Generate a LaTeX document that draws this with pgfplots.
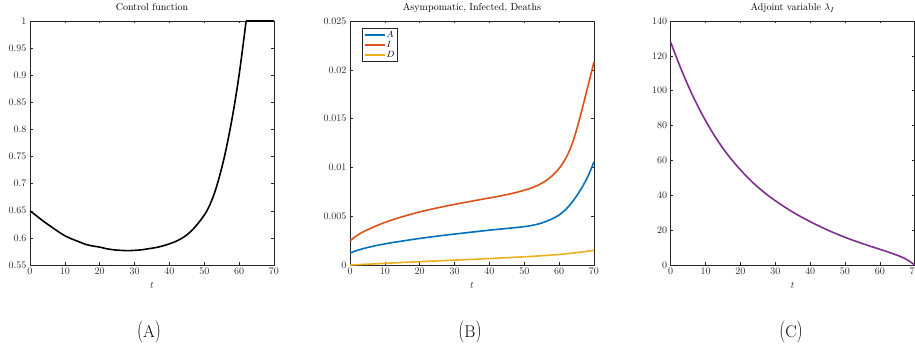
\documentclass[border=0pt]{standalone}
\usepackage{pgfplots}
\usepackage{graphicx}
\pgfplotsset{compat=1.18}
\definecolor{mblue}{rgb}{0,0.447,0.741}
\definecolor{morange}{rgb}{0.85,0.325,0.098}
\definecolor{myellow}{rgb}{0.929,0.694,0.125}
\definecolor{mpurple}{rgb}{0.494,0.184,0.556}
\definecolor{axcol}{rgb}{0.15,0.15,0.15}
\pgfplotsset{
 panel/.style={
  scale only axis, width=244pt, height=244pt, anchor=south west,
  xmin=0, xmax=70, xtick distance=10,
  axis line style={axcol, line width=0.5pt},
  tick style={axcol, line width=0.5pt},
  major tick length=2.5pt,
  tick align=inside,
  ticklabel style={text=axcol},
  xlabel={$t$},
  xlabel style={at={(axis description cs:0.5,0)}, anchor=base, yshift=-24pt, text=axcol},
  title style={at={(axis description cs:0.5,1)}, anchor=base, yshift=4pt},
  every axis plot/.append style={line width=1.6pt, line join=round},
  clip=false,
 }
}
\newcommand{\subcap}[1]{{\fontsize{17}{20}\selectfont\scalebox{1}[1.3]{(}#1\scalebox{1}[1.3]{)}}}
\begin{document}
\begin{tikzpicture}
% Panel A
\begin{axis}[panel, at={(30pt,80pt)},
  ymin=0.55, ymax=1, ytick={0.55,0.6,...,1.01},
  yticklabel style={/pgf/number format/fixed, /pgf/number format/precision=2},
  title={Control function}]
\addplot[black, smooth, tension=0.5] coordinates {
(0,0.650) (2,0.640) (4,0.630) (6,0.621) (8,0.612) (10,0.604) (12,0.598) (14,0.593)
(16,0.588) (18,0.585) (20,0.583) (22,0.580) (24,0.578) (26,0.577) (28,0.5765) (30,0.577)
(32,0.578) (34,0.580) (36,0.582) (38,0.585) (40,0.589) (42,0.594) (44,0.601) (46,0.611)
(48,0.625) (50,0.642) (51,0.653) (52,0.667) (53,0.684) (54,0.705) (55,0.729) (56,0.756)
(57,0.787) (58,0.821) (59,0.859) (60,0.901) (61,0.949) (62,1.000)
};
\addplot[black] coordinates {(62,1.000) (70,1.000)};
\end{axis}
% Panel B
\begin{axis}[panel, at={(350pt,80pt)},
  ymin=0, ymax=0.025, ytick={0,0.005,0.01,0.015,0.02,0.025},
  scaled y ticks=false,
  yticklabel style={/pgf/number format/fixed, /pgf/number format/precision=3},
  title={Asympomatic, Infected, Deaths},
  legend style={at={(0.049,0.971)}, anchor=north west, font=\small, draw=axcol,
    line width=0.5pt, inner sep=1.5pt, row sep=0pt, nodes={inner sep=1.2pt}},
  legend cell align=left,
  legend image code/.code={\draw[#1, sharp plot, line width=1.6pt] (0pt,0pt) -- (20pt,0pt);}]
\addplot[mblue, smooth, tension=0.5] coordinates {
(0,0.00120) (1,0.00136) (2,0.00149) (3,0.00160) (4,0.00170) (5,0.00179) (6,0.00187)
(8,0.00203) (10,0.00216) (12,0.00229) (14,0.00240) (16,0.00251) (18,0.00262) (20,0.00272)
(22,0.00282) (24,0.00291) (26,0.00300) (28,0.00309) (30,0.00317) (32,0.00325) (34,0.00333)
(36,0.00341) (38,0.00349) (40,0.00357) (42,0.00364) (44,0.00371) (46,0.00378) (48,0.00385)
(50,0.00393) (52,0.00404) (54,0.00420) (56,0.00443) (58,0.00473) (60,0.00512) (61,0.00540)
(62,0.00573) (63,0.00612) (64,0.00657) (65,0.00707) (66,0.00762) (67,0.00822) (68,0.00889)
(69,0.00968) (70,0.01058)
};
\addlegendentry{$A$}
\addplot[morange, smooth, tension=0.5] coordinates {
(0,0.00247) (1,0.00277) (2,0.00302) (3,0.00324) (4,0.00344) (5,0.00361) (6,0.00377)
(8,0.00408) (10,0.00436) (12,0.00461) (14,0.00484) (16,0.00505) (18,0.00525) (20,0.00544)
(22,0.00561) (24,0.00577) (26,0.00592) (28,0.00607) (30,0.00621) (32,0.00635) (34,0.00648)
(36,0.00661) (38,0.00674) (40,0.00687) (42,0.00700) (44,0.00714) (46,0.00729) (48,0.00746)
(50,0.00766) (52,0.00789) (54,0.00818) (56,0.00858) (58,0.00914) (60,0.00990) (61,0.01040)
(62,0.01100) (63,0.01175) (64,0.01270) (65,0.01385) (66,0.01515) (67,0.01655) (68,0.01795)
(69,0.01937) (70,0.02080)
};
\addlegendentry{$I$}
\addplot[myellow, smooth, tension=0.5] coordinates {
(0,0.00000) (5,0.00008) (10,0.00017) (15,0.00026) (20,0.00034) (25,0.00042) (30,0.00050)
(35,0.00058) (40,0.00066) (45,0.00075) (50,0.00084) (55,0.00095) (60,0.00108) (65,0.00127)
(70,0.00150)
};
\addlegendentry{$D$}
\end{axis}
% Panel C
\begin{axis}[panel, at={(670.7pt,80pt)},
  ymin=0, ymax=140, ytick distance=20,
  title={Adjoint variable $\lambda_I$}]
\addplot[mpurple, smooth, tension=0.5] coordinates {
(0,127.8) (1,122.5) (2,117.3) (3,112.3) (4,107.5) (5,102.9) (6,98.5) (8,90.3) (10,82.8)
(12,76.0) (14,69.8) (16,64.2) (18,59.2) (20,54.6) (22,50.4) (24,46.5) (26,43.0) (28,39.8)
(30,36.9) (32,34.2) (34,31.6) (36,29.2) (38,27.0) (40,24.9) (42,22.9) (44,21.0) (46,19.2)
(48,17.5) (50,15.9) (52,14.4) (54,13.0) (56,11.6) (58,10.3) (60,9.0) (62,7.7) (64,6.3)
(66,4.8) (67,3.9) (68,2.8) (69,1.5) (70,0)
};
\end{axis}
\node[anchor=base] at (149pt,7.5pt) {\subcap{A}};
\node[anchor=base] at (470pt,7.5pt) {\subcap{B}};
\node[anchor=base] at (791pt,7.5pt) {\subcap{C}};
\pgfresetboundingbox
\path[use as bounding box] (0,0) rectangle (915pt,345pt);
\end{tikzpicture}
\end{document}
